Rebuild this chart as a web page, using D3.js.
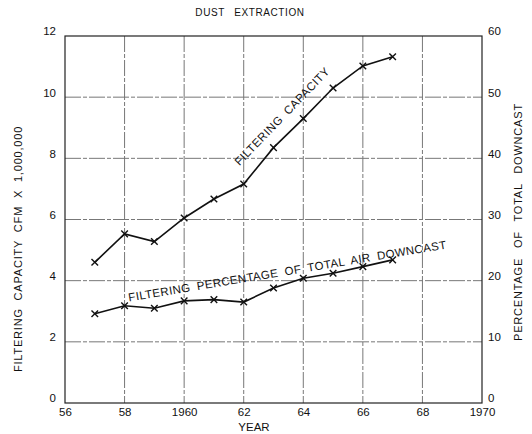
<!DOCTYPE html>
<html>
<head>
<meta charset="utf-8">
<script src="https://cdn.jsdelivr.net/npm/d3@7"></script>
<style>
  html, body { margin: 0; padding: 0; background: #fff; }
  svg { display: block; }
  text { font-family: "Liberation Sans", Arial, sans-serif; fill: #111; }
</style>
</head>
<body>
<svg id="chart" width="532" height="434"></svg>
<script>
// ---- data ----
const years = [57, 58, 59, 60, 61, 62, 63, 64, 65, 66, 67];
const capacity = [4.6, 5.53, 5.28, 6.05, 6.67, 7.16, 8.35, 9.3, 10.3, 11.02, 11.32];
const percentage = [14.6, 15.9, 15.5, 16.7, 16.9, 16.5, 18.8, 20.4, 21.2, 22.3, 23.4];
const xTicks = [56, 58, 60, 62, 64, 66, 68, 70];
const xTickLabels = ["56", "58", "1960", "62", "64", "66", "68", "1970"];
const yLeftTicks = [0, 2, 4, 6, 8, 10, 12];
const yRightTicks = [0, 10, 20, 30, 40, 50, 60];

const svg = d3.select("#chart");
const m = { left: 65, right: 482, top: 36, bottom: 403 };

const x = d3.scaleLinear().domain([56, 70]).range([m.left, m.right]);
const yL = d3.scaleLinear().domain([0, 12]).range([m.bottom, m.top]);
const yR = d3.scaleLinear().domain([0, 60]).range([m.bottom, m.top]);

// grid
const grid = svg.append("g").attr("stroke", "#777").attr("stroke-width", 1)
  .attr("stroke-dasharray", "16,2,4,2");
grid.selectAll(".vg").data(xTicks.slice(1, -1)).join("line")
  .attr("x1", d => x(d)).attr("x2", d => x(d))
  .attr("y1", m.top).attr("y2", m.bottom);
grid.selectAll(".hg").data(yLeftTicks.slice(1, -1)).join("line")
  .attr("y1", d => yL(d)).attr("y2", d => yL(d))
  .attr("x1", m.left).attr("x2", m.right);

// frame
svg.append("rect").attr("x", m.left).attr("y", m.top)
  .attr("width", m.right - m.left).attr("height", m.bottom - m.top)
  .attr("fill", "none").attr("stroke", "#222").attr("stroke-width", 1.2);

// axes
const axL = svg.append("g").attr("transform", `translate(${m.left},0)`)
  .call(d3.axisLeft(yL).tickValues(yLeftTicks).tickSize(0).tickPadding(9));
const axR = svg.append("g").attr("transform", `translate(${m.right},0)`)
  .call(d3.axisRight(yR).tickValues(yRightTicks).tickSize(0).tickPadding(6));
const axB = svg.append("g").attr("transform", `translate(0,${m.bottom})`)
  .call(d3.axisBottom(x).tickValues(xTicks).tickFormat((d, i) => xTickLabels[i]).tickSize(0).tickPadding(5));
[axL, axR, axB].forEach(a => {
  a.select(".domain").remove();
  a.selectAll("text").attr("font-size", 11.5).attr("fill", "#111")
    .attr("font-family", "'Liberation Sans', Arial, sans-serif");
});
axL.selectAll("text").attr("dy", "-0.1em");
axR.selectAll("text").attr("dy", "-0.1em");

// lines
const lineL = d3.line().x((d, i) => x(years[i])).y(d => yL(d));
const lineR = d3.line().x((d, i) => x(years[i])).y(d => yR(d));
svg.append("path").datum(capacity).attr("d", lineL)
  .attr("fill", "none").attr("stroke", "#111").attr("stroke-width", 1.6);
svg.append("path").datum(percentage).attr("d", lineR)
  .attr("fill", "none").attr("stroke", "#111").attr("stroke-width", 1.6);

// markers
const sym = d3.symbol().type(d3.symbolTimes).size(30);
svg.selectAll(".mc").data(capacity).join("path")
  .attr("d", sym).attr("transform", (d, i) => `translate(${x(years[i])},${yL(d)})`)
  .attr("fill", "none").attr("stroke", "#111").attr("stroke-width", 1.4);
svg.selectAll(".mp").data(percentage).join("path")
  .attr("d", sym).attr("transform", (d, i) => `translate(${x(years[i])},${yR(d)})`)
  .attr("fill", "none").attr("stroke", "#111").attr("stroke-width", 1.4);

// title and axis titles
svg.append("text").attr("x", 250).attr("y", 16).attr("text-anchor", "middle")
  .attr("font-size", 10).attr("letter-spacing", 0.6).attr("word-spacing", 6)
  .text("DUST EXTRACTION");
svg.append("text").attr("x", 254).attr("y", 431).attr("text-anchor", "middle")
  .attr("font-size", 11.5).text("YEAR");
svg.append("text").attr("transform", `translate(22,249) rotate(-90)`)
  .attr("text-anchor", "middle").attr("font-size", 11).attr("letter-spacing", 0.8)
  .attr("word-spacing", 4).text("FILTERING CAPACITY CFM X 1,000,000");
svg.append("text").attr("transform", `translate(522,222) rotate(-90)`)
  .attr("text-anchor", "middle").attr("font-size", 11).attr("letter-spacing", 0.8)
  .attr("word-spacing", 6).text("PERCENTAGE OF TOTAL DOWNCAST");

// line labels
svg.append("text").attr("transform", "translate(285,119) rotate(-46)")
  .attr("text-anchor", "middle").attr("font-size", 11.5).attr("letter-spacing", 0.5)
  .attr("word-spacing", 3).text("FILTERING CAPACITY");
svg.append("text").attr("transform", "translate(288,275) rotate(-9.5)")
  .attr("text-anchor", "middle").attr("font-size", 11.5).attr("letter-spacing", 0.4)
  .attr("word-spacing", 3).text("FILTERING PERCENTAGE OF TOTAL AIR DOWNCAST");
</script>
</body>
</html>
